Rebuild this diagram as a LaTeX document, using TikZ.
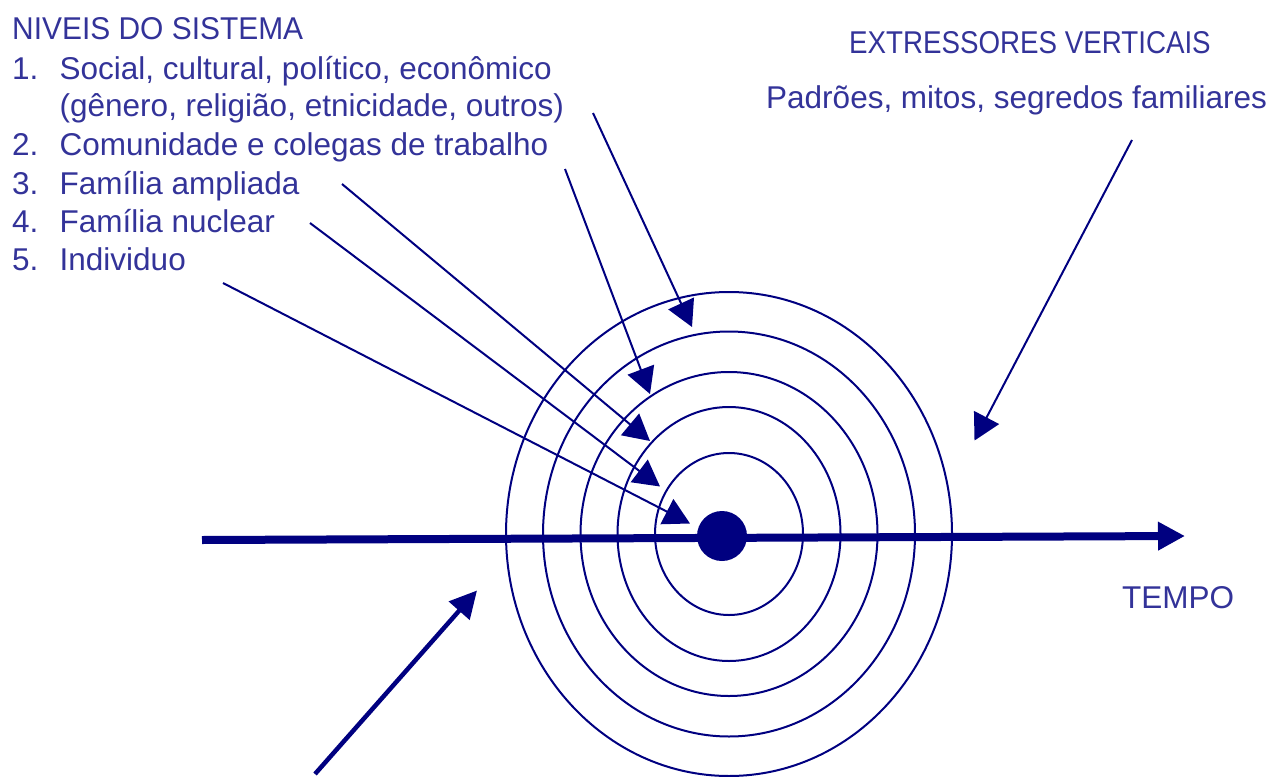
\documentclass[tikz,border=0pt]{standalone}
\usepackage{fontspec}
\setmainfont{Liberation Sans}
\usepackage{tikz}
\usetikzlibrary{arrows.meta,positioning}
\definecolor{navyline}{RGB}{0,0,128}
\definecolor{textblue}{RGB}{51,51,153}

\begin{document}
\begin{tikzpicture}[
x=1pt, y=-1pt,
label/.style={anchor=base west, inner sep=0pt, text=textblue, font=\fontsize{31.5}{36}\selectfont},
ring/.style={draw=navyline, line width=2pt},
pointer/.style={-{Triangle[length=26pt,width=28pt]}, navyline, line width=2pt},
bigpointer/.style={-{Triangle[length=27pt,width=27pt]}, navyline, line width=4.5pt},
timeline/.style={-{Triangle[length=27pt,width=27pt]}, navyline, line width=8pt}
]
    \useasboundingbox (0,0) rectangle (1279,776);

    % Levels of the system
    \node[label] (titulo) at (12,39.5) {\scalebox{0.95}[1]{NIVEIS DO SISTEMA}};
    \node[label] (n1) at (12,79) {1.};
    \node[label] (l1) at (59.5,79) {Social, cultural, político, econômico};
    \node[label] (l1b) at (59.5,116.5) {(gênero, religião, etnicidade, outros)};
    \node[label] (n2) at (12,155.5) {2.};
    \node[label] (l2) at (59.5,155.5) {Comunidade e colegas de trabalho};
    \node[label] (n3) at (12,194) {3.};
    \node[label] (l3) at (59.5,194) {Família ampliada};
    \node[label] (n4) at (12,232) {4.};
    \node[label] (l4) at (59.5,232) {Família nuclear};
    \node[label] (n5) at (12,270) {5.};
    \node[label] (l5) at (59.5,270) {Individuo};

    % Vertical stressors
    \node[label] (extressores) at (849,53) {\scalebox{0.88}[1]{EXTRESSORES VERTICAIS}};
    \node[label] (padroes) at (766,108) {Padrões, mitos, segredos familiares};
    \node[label] (tempo) at (1122,608) {TEMPO};

    \draw
      (729,534) coordinate (centro)
      (202,540) coordinate (inicio)
      (1185,536) coordinate (fim)
      (593,113) coordinate (O1)
      (692,327) coordinate (A1)
      (565,169) coordinate (O2)
      (650,394) coordinate (A2)
      (342,184) coordinate (O3)
      (650,441) coordinate (A3)
      (310,223) coordinate (O4)
      (660,486.5) coordinate (A4)
      (223,283) coordinate (O5)
      (690,523.5) coordinate (A5)
      (1132,140) coordinate (OV)
      (974.5,440.5) coordinate (AV)
      (315,774) coordinate (OH)
      (477,590.5) coordinate (AH);

    % Rings
    \draw[ring] (centro) ellipse [x radius=74, y radius=81];
    \draw[ring] (centro) ellipse [x radius=111.5, y radius=127];
    \draw[ring] (centro) ellipse [x radius=148.5, y radius=162];
    \draw[ring] (centro) ellipse [x radius=186, y radius=202.5];
    \draw[ring] (centro) ellipse [x radius=223, y radius=242];

    % Time axis
    \draw[timeline] (inicio) -- (fim);
    \node[circle, fill=navyline, inner sep=0pt, minimum size=50pt] (individuo) at (722,536) {};

    \draw[pointer] (O1) -- (A1);
    \draw[pointer] (O2) -- (A2);
    \draw[pointer] (O3) -- (A3);
    \draw[pointer] (O4) -- (A4);
    \draw[pointer] (O5) -- (A5);
    \draw[pointer] (OV) -- (AV);
    \draw[bigpointer] (OH) -- (AH);

\end{tikzpicture}
\end{document}
